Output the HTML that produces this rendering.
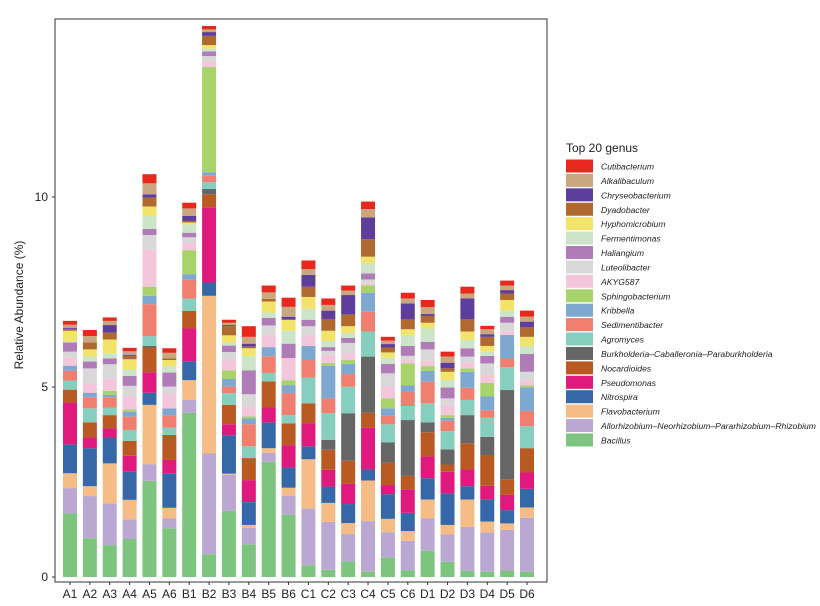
<!DOCTYPE html>
<html><head><meta charset="utf-8"><style>
body{margin:0;background:#fff;width:820px;height:601px;overflow:hidden;font-family:"Liberation Sans",sans-serif}
</style></head><body>
<svg id="chart" width="820" height="601" xmlns="http://www.w3.org/2000/svg"></svg>
<script>
const samples = ["A1","A2","A3","A4","A5","A6","B1","B2","B3","B4","B5","B6","C1","C2","C3","C4","C5","C6","D1","D2","D3","D4","D5","D6"];
const genera = ["Bacillus","Allorhizobium\u2013Neorhizobium\u2013Pararhizobium\u2013Rhizobium","Flavobacterium","Nitrospira","Pseudomonas","Nocardioides","Burkholderia\u2013Caballeronia\u2013Paraburkholderia","Agromyces","Sedimentibacter","Kribbella","Sphingobacterium","AKYG587","Luteolibacter","Haliangium","Fermentimonas","Hyphomicrobium","Dyadobacter","Chryseobacterium","Alkalibaculum","Cutibacterium"];
const colors = ["#7DC47E","#BBA8D2","#F5BC85","#3668A8","#E0197E","#B85A22","#666666","#86CEBE","#F07F6F","#7FA8D0","#A8D26A","#F4C6DC","#D8D8D8","#B07CB8","#CCE5C8","#F2E46A","#B06A30","#5E3E9C","#C9A880","#E8281C"];
const yTicks = [0,5,10];
// per-sample genus values (bottom to top, same order as genera)
const valsA1 = [1.68,.66,.39,.76,1.1,.34,0,.24,.26,.13,0,.21,.16,.24,.03,.28,.05,.03,.08,.10];
const valsA2 = [1.02,1.11,.26,1.0,.28,.4,0,.37,.29,.12,0,.25,.39,.18,.13,.19,.18,0,.17,.16];
const valsA3 = [.84,1.1,1.05,.68,.24,.35,0,.2,.27,.06,.11,.33,.37,.15,.14,.36,.18,.2,.11,.09];
const valsA4 = [1.0,.52,.51,.74,.42,.39,0,.29,.35,.13,.06,.34,.28,.26,.17,.27,.09,.03,.09,.09];
const valsA5 = [2.53,.44,1.56,.32,.54,.65,.04,.26,.84,.22,.24,.97,.39,.16,.34,.25,.23,.09,.29,.24];
const valsA6 = [1.28,.26,.28,.91,.35,.66,0,.19,.33,.18,0,.39,.18,.37,.17,.16,.04,0,.15,.12];
const valsB1 = [4.32,.34,.52,.5,.86,.46,0,.33,.49,.15,.63,.2,.14,.12,.22,.05,.04,.13,.2,.15];
const valsB2 = [.6,2.65,4.15,.35,1.98,.34,.14,.18,.17,.09,2.77,.15,.14,.12,.07,.1,.24,.1,.07,.09];
const valsB3 = [1.74,.95,.03,1.01,.29,.51,0,.31,.17,.2,.23,.27,.21,.17,.08,.19,.24,.03,.06,.08];
const valsB4 = [.86,.43,.08,.6,.58,.58,0,.31,.58,.15,.06,.23,.35,.63,.37,.21,.04,.08,.18,.28];
const valsB5 = [3.03,.24,.12,.68,.39,.69,0,.22,.44,.24,0,.33,.24,.2,.14,.29,.07,0,.17,.18];
const valsB6 = [1.64,.5,.21,.53,.59,.57,0,.22,.58,.21,.13,.58,0,.38,.34,.29,0,.08,.26,.24];
const valsC1 = [.31,1.49,1.3,.34,.61,.52,0,.68,.46,.37,0,.28,.24,.17,.29,.31,.27,.31,.15,.23];
const valsC2 = [.19,1.26,.5,.43,.44,.53,.26,.7,.39,.86,.07,.22,.1,.1,.16,.27,.31,.22,.15,.17];
const valsC3 = [.41,.72,.29,.5,.53,.61,1.25,.7,.33,.27,.1,.17,.28,.13,.13,.18,.31,.51,.12,.13];
const valsC4 = [.14,1.33,1.07,.29,1.1,.39,1.48,.66,.52,.5,.2,.05,.1,.16,.26,.18,.46,.57,.22,.2];
const valsC5 = [.51,.67,.35,.65,.24,.59,.53,.48,.22,.2,.26,.31,.35,.25,.16,.14,.13,.09,.09,.1];
const valsC6 = [.18,.77,.26,.48,.62,.35,1.47,.37,.38,.16,.58,.1,.1,.26,.29,.15,.26,.42,.13,.15];
const valsD1 = [.69,.85,.5,.56,.57,.64,.26,.5,.57,.28,.13,.14,.3,.2,.35,.15,.18,.05,.18,.19];
const valsD2 = [.4,.72,.25,.83,.57,.19,.4,.48,.27,.08,.07,.27,.17,.29,.19,.22,.09,.15,.16,.13];
const valsD3 = [.16,1.16,.72,.35,.44,.69,.74,.4,.32,.42,.09,.16,.15,.22,.22,.22,.32,.55,.13,.18];
const valsD4 = [.14,1.03,.29,.57,.37,.81,.48,.5,.2,.36,.36,.22,.29,.2,.11,.15,.24,.07,.13,.09];
const valsD5 = [.17,1.07,.17,.35,.4,.41,2.35,.6,.23,.62,0,.1,.22,.16,.16,.28,.17,.09,.12,.13];
const valsD6 = [.14,1.42,.27,.49,.43,.64,0,.58,.4,.62,.05,.14,.22,.47,.21,.24,.25,.15,.13,.16];
const sampleValues = [valsA1,valsA2,valsA3,valsA4,valsA5,valsA6,valsB1,valsB2,valsB3,valsB4,valsB5,valsB6,valsC1,valsC2,valsC3,valsC4,valsC5,valsC6,valsD1,valsD2,valsD3,valsD4,valsD5,valsD6];

const NS="http://www.w3.org/2000/svg";
const svg=document.getElementById('chart');
function mk(tag,attrs,parent){const e=document.createElementNS(NS,tag);for(const k in attrs)e.setAttribute(k,attrs[k]);(parent||svg).appendChild(e);return e;}
const y=v=>577-v*38;
const x=i=>70+i*19.87;
const bw=14;

const panel=mk('rect',{x:55,y:19,width:492,height:563,fill:'#fff',stroke:'#333','stroke-width':1});



yTicks.forEach(t=>{
  const tk=mk('line',{x1:52,x2:55,y1:y(t),y2:y(t),stroke:'#333'});
  
  
  const lb=mk('text',{x:48,y:y(t)+4,'text-anchor':'end','font-size':12,fill:'#222'});
  lb.textContent=t;
  
  
});

samples.forEach((s,i)=>{
  let cum=0;
  const vals=sampleValues[i];
  vals.forEach((v,g)=>{
    if(v<=0)return;
    const r=mk('rect',{x:x(i)-bw/2,y:y(cum+v),width:bw,height:v*38,fill:colors[g]});
    
    
    cum+=v;
  });
  const tk=mk('line',{x1:x(i),x2:x(i),y1:582,y2:585,stroke:'#333'});
  
  
  const lb=mk('text',{x:x(i),y:598,'text-anchor':'middle','font-size':12,fill:'#222'});
  lb.textContent=s;
  
  
});

const yt=mk('text',{x:0,y:0,transform:'translate(23,305) rotate(-90)','text-anchor':'middle','font-size':12,fill:'#222'});
yt.textContent='Relative Abundance (%)';



const lt=mk('text',{x:566,y:152,'font-size':12,fill:'#222'});
lt.textContent='Top 20 genus';


for(let k=0;k<20;k++){
  const g=19-k;
  const cy=166+k*14.42;
  const sw=mk('rect',{x:566,y:cy-6.5,width:27,height:13,fill:colors[g]});
  
  
  const tx=mk('text',{x:601,y:cy+3.5,'font-size':8.6,'font-style':'italic',fill:'#222'});
  tx.textContent=genera[g];
  
  
}
</script>
</body></html>
